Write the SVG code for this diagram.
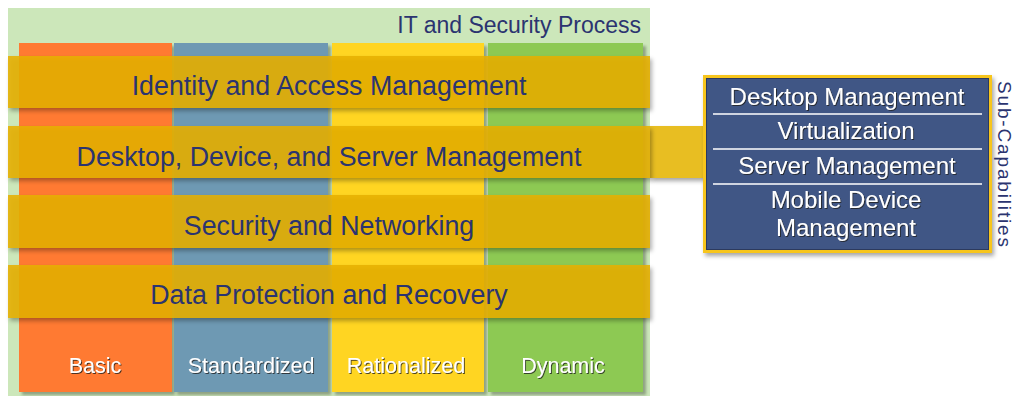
<svg xmlns="http://www.w3.org/2000/svg" width="1016" height="396" viewBox="0 0 1016 396">
<defs>
<filter id="sh" x="-5%" y="-20%" width="110%" height="150%">
<feDropShadow dx="2" dy="3" stdDeviation="2" flood-color="#000" flood-opacity="0.35"/>
</filter>
<filter id="csh" x="-5%" y="-5%" width="115%" height="110%">
<feDropShadow dx="3" dy="3" stdDeviation="1.5" flood-color="#000" flood-opacity="0.3"/>
</filter>
<filter id="tsh" x="-10%" y="-20%" width="120%" height="150%">
<feDropShadow dx="1" dy="1" stdDeviation="0.6" flood-color="#222" flood-opacity="0.8"/>
</filter>
</defs>
<style>
.band{fill:#E7B000;fill-opacity:0.87}
.bt{font-family:"Liberation Sans",Arial,sans-serif;font-size:26.8px;fill:#2B3470;text-anchor:middle}
.ct{font-family:"Liberation Sans",Arial,sans-serif;font-size:21.5px;fill:#fff;text-anchor:middle}
.st{font-family:"Liberation Sans",Arial,sans-serif;font-size:24px;fill:#fff;text-anchor:middle}
.div{stroke:#fff;stroke-width:1.5}
</style>
<g id="background">
<rect x="8" y="8" width="642" height="388" fill="#CCE7BA"/>
<text x="641" y="33" font-family="Liberation Sans, Arial, sans-serif" font-size="23" fill="#2B3470" text-anchor="end">IT and Security Process</text>
</g>
<g id="col-basic" filter="url(#csh)">
<rect x="19" y="43" width="153" height="349" fill="#FF7A30"/>
<text class="ct" x="95" y="373" filter="url(#tsh)">Basic</text>
</g>
<g id="col-standardized" filter="url(#csh)">
<rect x="174" y="43" width="154" height="349" fill="#6E99B3"/>
<text class="ct" x="251" y="373" filter="url(#tsh)">Standardized</text>
</g>
<g id="col-rationalized" filter="url(#csh)">
<rect x="332" y="43" width="152" height="349" fill="#FFD520"/>
<text class="ct" x="406" y="373" filter="url(#tsh)">Rationalized</text>
</g>
<g id="col-dynamic" filter="url(#csh)">
<rect x="488" y="43" width="155" height="349" fill="#8DC953"/>
<text class="ct" x="563" y="373" filter="url(#tsh)">Dynamic</text>
</g>
<g id="connectors">
<rect x="650" y="126" width="55" height="52" fill="#E8BE24" filter="url(#sh)"/>
</g>
<g id="band-identity">
<rect class="band" x="8" y="56" width="642" height="52" filter="url(#sh)"/>
<text class="bt" x="329" y="95">Identity and Access Management</text>
</g>
<g id="band-desktop">
<rect class="band" x="8" y="126" width="642" height="52" filter="url(#sh)"/>
<text class="bt" x="329" y="166">Desktop, Device, and Server Management</text>
</g>
<g id="band-security">
<rect class="band" x="8" y="195" width="642" height="53" filter="url(#sh)"/>
<text class="bt" x="329" y="235">Security and Networking</text>
</g>
<g id="band-data">
<rect class="band" x="8" y="265" width="642" height="53" filter="url(#sh)"/>
<text class="bt" x="329" y="304">Data Protection and Recovery</text>
</g>
<g id="sub-capabilities">
<rect x="704.5" y="76.5" width="286" height="175" fill="#3F5685" stroke="#F7C51A" stroke-width="3" filter="url(#sh)"/>
<rect x="706.5" y="78.5" width="282" height="171" fill="none" stroke="#2C3A5E" stroke-width="1"/>
<line class="div" x1="713" y1="114" x2="982" y2="114"/>
<line class="div" x1="713" y1="149" x2="982" y2="149"/>
<line class="div" x1="713" y1="184" x2="982" y2="184"/>
<g filter="url(#tsh)">
<text class="st" x="847" y="105">Desktop Management</text>
<text class="st" x="846" y="139">Virtualization</text>
<text class="st" x="847" y="174">Server Management</text>
<text class="st" x="846" y="208">Mobile Device</text>
<text class="st" x="846" y="236">Management</text>
</g>
<text transform="translate(998,81) rotate(90)" font-family="Liberation Sans, Arial, sans-serif" font-size="19" fill="#2B3470" textLength="166" lengthAdjust="spacing">Sub-Capabilities</text>
</g>
</svg>
